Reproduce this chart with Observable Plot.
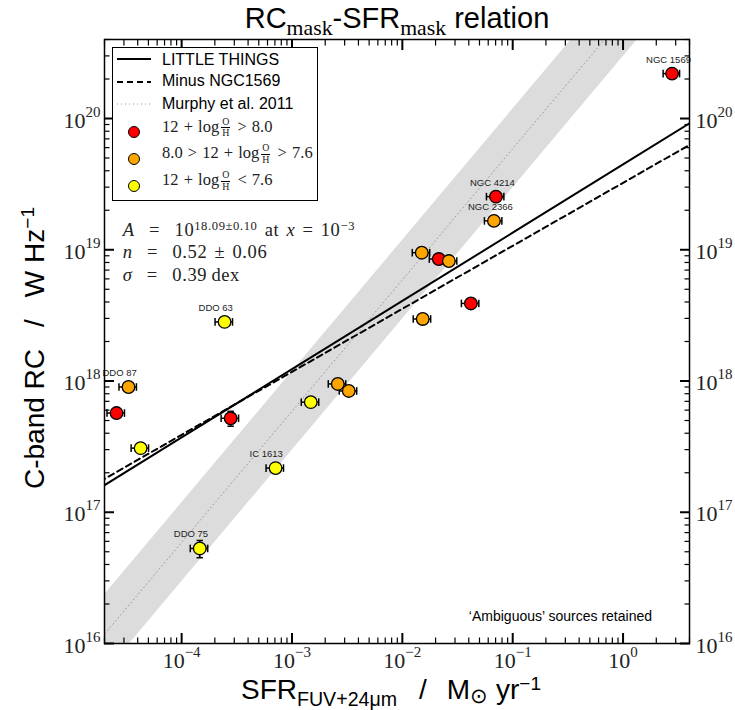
<!DOCTYPE html>
<html><head><meta charset="utf-8">
<script src="https://cdn.jsdelivr.net/npm/d3@7"></script>
<script src="https://cdn.jsdelivr.net/npm/@observablehq/plot@0.6"></script>
<style>
body{margin:0;background:#fff;}
#wrap{position:relative;width:735px;height:710px;overflow:hidden;background:#fff;}
#wrap > svg{position:absolute;left:0;top:0;}
.ov{position:absolute;white-space:nowrap;line-height:1;color:#000;}
.sans{font-family:"Liberation Sans",Arial,sans-serif;}
.serif{font-family:"Liberation Serif","DejaVu Serif",serif;}
.sub{position:relative;top:0.32em;font-size:0.7em;}
.sup{position:relative;top:-0.5em;font-size:0.68em;}
.frac{display:inline-block;vertical-align:-4px;text-align:center;font-size:0.6em;line-height:1.05;margin:0 2px;}
.frac span{display:block;}
.frac .num{border-bottom:1px solid #000;padding:0 1px;}
</style></head><body><div id="wrap"></div>
<script>
// ---- data ----
const galaxies = ["NGC 1569","NGC 4214","NGC 2366","","","","","","DDO 63","DDO 87","","","","","","","IC 1613","DDO 75"];
const sfr = [2.78, 0.0705, 0.0676, 0.0150, 0.0214, 0.0264, 0.0418, 0.0153, 2.45e-4, 3.3e-5, 2.57e-5, 2.78e-4, 4.25e-5, 2.6e-3, 3.27e-3, 1.48e-3, 7.1e-4, 1.46e-4];
const rcLum = [2.2e20, 2.54e19, 1.66e19, 9.5e18, 8.5e18, 8.2e18, 3.9e18, 2.97e18, 2.82e18, 9.0e17, 5.7e17, 5.2e17, 3.08e17, 9.5e17, 8.4e17, 6.9e17, 2.17e17, 5.3e16];
const metalClass = ["high","high","mid","mid","high","mid","high","mid","low","mid","high","high","low","mid","mid","low","low","low"];
const sfrErrFrac = [0.17, 0.18, 0.18, 0.18, 0.18, 0.18, 0.18, 0.18, 0.18, 0.18, 0.18, 0.18, 0.18, 0.18, 0.18, 0.18, 0.18, 0.18];
const rcErrFrac = [0.03, 0.03, 0.03, 0.03, 0.03, 0.03, 0.03, 0.03, 0.03, 0.03, 0.03, 0.13, 0.03, 0.03, 0.03, 0.03, 0.03, 0.15];
const classKeys = ["high","mid","low"];
const classColors = ["#ff0000","#ffa500","#ffff00"];
// fits: log10 A at SFR = 1e-3, slope n
const fitLabels = ["LITTLE THINGS","Minus NGC1569"];
const fitLogA = [18.09, 18.07];
const fitSlope = [0.52, 0.48];
const fitPivot = 1e-3;
// Murphy et al. 2011: log L = log SFR + offset, shaded +/- scatter
const murphyOffset = 20.77;
const murphyScatter = 0.30;
const curveSfr = [1e-6, 1e-5, 1e-4, 1e-3, 1e-2, 1e-1, 1, 10, 100];
const xMajor = [1e-4, 1e-3, 1e-2, 1e-1, 1];
const yMajor = [1e16, 1e17, 1e18, 1e19, 1e20];
const xDomain = [2e-5, 4];
const yDomain = [1e16, 4e20];

// ---- build ----
const pts = galaxies.map((name, i) => ({name, sfr: sfr[i], rc: rcLum[i], cls: metalClass[i], xe: sfrErrFrac[i], ye: rcErrFrac[i]}));
function minorTicks(dom) {
  const out = [];
  for (let e = Math.floor(Math.log10(dom[0])); e <= Math.ceil(Math.log10(dom[1])); e++)
    for (let k = 2; k <= 9; k++) { const v = k * 10 ** e; if (v >= dom[0] && v <= dom[1]) out.push(v); }
  return out;
}
const xMinor = minorTicks(xDomain), yMinor = minorTicks(yDomain);
const fmt = d => "10^" + Math.round(Math.log10(d));
const fitY = (k) => (s) => 10 ** (fitLogA[k] + fitSlope[k] * Math.log10(s / fitPivot));
const capV = {draw(ctx, size){const r = Math.sqrt(size/Math.PI); ctx.moveTo(0,-r); ctx.lineTo(0,r);}};
const capH = {draw(ctx, size){const r = Math.sqrt(size/Math.PI); ctx.moveTo(-r,0); ctx.lineTo(r,0);}};

const tickMarks = [];
for (const anchor of ["bottom","top"]) {
  tickMarks.push(Plot.axisX({anchor, ticks: xMajor, tickSize: -10, stroke: "#000", strokeWidth: 2, fill: "none", label: null}));
  tickMarks.push(Plot.axisX({anchor, ticks: xMinor, tickSize: -5.5, stroke: "#000", strokeWidth: 1.2, fill: "none", label: null}));
}
for (const anchor of ["left","right"]) {
  tickMarks.push(Plot.axisY({anchor, ticks: yMajor, tickSize: -10, stroke: "#000", strokeWidth: 2, fill: "none", label: null}));
  tickMarks.push(Plot.axisY({anchor, ticks: yMinor, tickSize: -5.5, stroke: "#000", strokeWidth: 1.2, fill: "none", label: null}));
}

const chart = Plot.plot({
  width: 735, height: 710,
  marginLeft: 104, marginRight: 46, marginTop: 39, marginBottom: 67,
  x: {type: "log", domain: xDomain},
  y: {type: "log", domain: yDomain},
  style: {fontFamily: '"Liberation Serif", serif', fontSize: "22px", color: "#000", background: "transparent"},
  marks: [
    Plot.areaY(curveSfr, {x: d => d, y1: d => 10 ** (Math.log10(d) + murphyOffset - murphyScatter), y2: d => 10 ** (Math.log10(d) + murphyOffset + murphyScatter), fill: "#dcdcdc", clip: true}),
    Plot.line(curveSfr, {x: d => d, y: d => 10 ** (Math.log10(d) + murphyOffset), stroke: "#9a9a9a", strokeWidth: 1, strokeDasharray: "1,3", clip: true}),
    Plot.line(curveSfr, {x: d => d, y: fitY(0), stroke: "#000", strokeWidth: 2, clip: true}),
    Plot.line(curveSfr, {x: d => d, y: fitY(1), stroke: "#000", strokeWidth: 2, strokeDasharray: "6,4", clip: true}),
    // error bars
    Plot.link(pts, {x1: d => d.sfr * (1 - d.xe), x2: d => d.sfr * (1 + d.xe), y1: "rc", y2: "rc", stroke: "#000", strokeWidth: 1.5}),
    Plot.dot(pts, {x: d => d.sfr * (1 - d.xe), y: "rc", symbol: capV, r: 3.8, stroke: "#000", strokeWidth: 1.5, fill: "none"}),
    Plot.dot(pts, {x: d => d.sfr * (1 + d.xe), y: "rc", symbol: capV, r: 3.8, stroke: "#000", strokeWidth: 1.5, fill: "none"}),
    Plot.link(pts, {x1: "sfr", x2: "sfr", y1: d => d.rc * (1 - d.ye), y2: d => d.rc * (1 + d.ye), stroke: "#000", strokeWidth: 1.5}),
    Plot.dot(pts, {x: "sfr", y: d => d.rc * (1 - d.ye), symbol: capH, r: 3.2, stroke: "#000", strokeWidth: 1.5, fill: "none"}),
    Plot.dot(pts, {x: "sfr", y: d => d.rc * (1 + d.ye), symbol: capH, r: 3.2, stroke: "#000", strokeWidth: 1.5, fill: "none"}),
    Plot.dot(pts, {x: "sfr", y: "rc", r: 6.3, fill: d => classColors[classKeys.indexOf(d.cls)], stroke: "#000", strokeWidth: 1.3}),
    Plot.text(pts.filter(d => d.name), {x: "sfr", y: "rc", text: "name", textAnchor: "start", lineAnchor: "bottom", dx: -26, dy: -11, fontSize: 9.5, fontFamily: '"Liberation Sans", sans-serif', fill: "#222"}),
    Plot.frame({stroke: "#000", strokeWidth: 1.5}),
    ...tickMarks,
    Plot.axisX({anchor: "bottom", ticks: xMajor, tickSize: 0, tickPadding: 9, tickFormat: fmt, label: null, fill: "#222", fontSize: 22}),
    Plot.axisY({anchor: "left", ticks: yMajor, tickSize: 0, tickPadding: 4, tickFormat: fmt, label: null, dy: 2, fill: "#222", fontSize: 22}),
    Plot.axisY({anchor: "right", ticks: yMajor, tickSize: 0, tickPadding: 6, tickFormat: fmt, label: null, dy: 2, fill: "#222", fontSize: 22})
  ]
});

// superscript exponents on tick labels
const NS = "http://www.w3.org/2000/svg";
chart.querySelectorAll('g[aria-label$="tick label"] text').forEach(t => {
  const m = t.textContent.match(/^10\^(.+)$/);
  if (!m) return;
  t.textContent = "";
  const a = document.createElementNS(NS, "tspan"); a.textContent = "10"; t.appendChild(a);
  const b = document.createElementNS(NS, "tspan"); b.textContent = m[1].replace("-", "\u2212");
  b.setAttribute("dy", "-11"); b.setAttribute("font-size", "15px"); t.appendChild(b);
});

const wrap = document.getElementById("wrap");
wrap.appendChild(chart);

function addDiv(html, cls, style) {
  const d = document.createElement("div");
  d.className = "ov " + cls; d.innerHTML = html;
  Object.assign(d.style, style); wrap.appendChild(d); return d;
}
// title
addDiv('RC<span class="sub serif" style="font-size:0.75em">mask</span>-SFR<span class="sub serif" style="font-size:0.75em">mask</span> relation', "sans",
  {left: "397px", top: (29 - 0.8465 * 29) + "px", fontSize: "29px", transform: "translateX(-50%)"});
// x label
addDiv('SFR<span class="sub">FUV+24\u03bcm</span><span style="margin:0 20px 0 22px">/</span>M<span class="sub" style="font-size:0.75em;top:0.2em">\u2299</span>&nbsp;yr<span class="sup">\u22121</span>', "sans",
  {left: "241px", top: (700 - 0.8465 * 28) + "px", fontSize: "28px"});
// y label
addDiv('C-band RC<span style="margin:0 22px">/</span>W Hz<span class="sup">\u22121</span>', "sans",
  {left: (45 - 0.8465 * 28) + "px", top: "489px", fontSize: "28px", transformOrigin: "0 0", transform: "rotate(-90deg)"});
// legend box
addDiv("", "", {left: "112px", top: "47px", width: "204px", height: "152px", border: "1px solid #000", background: "#fff"});
const legLines = [
  {label: fitLabels[0], y: 59, dash: null, color: "#000", w: 2},
  {label: fitLabels[1], y: 82, dash: "6,4", color: "#000", w: 2},
  {label: "Murphy et al. 2011", y: 104, dash: "1,3", color: "#9a9a9a", w: 1}
];
const legBase = [65.7, 87, 109.3];
legLines.forEach((l, i) => {
  addDiv(`<svg width="36" height="6" style="display:block"><line x1="1" x2="35" y1="3" y2="3" stroke="${l.color}" stroke-width="${l.w}" ${l.dash ? `stroke-dasharray="${l.dash}"` : ""}/></svg>`, "",
    {left: "116px", top: (l.y - 3) + "px", lineHeight: "0"});
  addDiv(l.label, "sans", {left: "162px", top: (legBase[i] - 0.8465 * 16) + "px", fontSize: "16px"});
});
const OH = '<span class="frac"><span class="num">O</span><span>H</span></span>';
const legMath = [
  `12 + log${OH} &gt; 8.0`,
  `8.0 &gt; 12 + log${OH} &gt; 7.6`,
  `12 + log${OH} &lt; 7.6`
];
const legCircY = [132.3, 159, 186.7];
const legMathBase = [130.7, 157.3, 184];
legMath.forEach((m, i) => {
  addDiv("", "", {left: (134.3 - 6.3) + "px", top: (legCircY[i] - 6.3) + "px", width: "10px", height: "10px", borderRadius: "50%", border: "1.3px solid #000", background: classColors[i]});
  addDiv(m, "serif", {left: "162px", top: (legMathBase[i] - 0.8375 * 16.5) + "px", fontSize: "16.5px", color: "#222", wordSpacing: "1px"});
});
// fit stats
const stats = [
  '<i>A</i>&nbsp;&nbsp;=&nbsp;&nbsp;10<span class="sup">18.09\u00b10.10</span>&nbsp;at&nbsp;<i>x</i>&nbsp;=&nbsp;10<span class="sup">\u22123</span>',
  '<i>n</i>&nbsp;&nbsp;=&nbsp;&nbsp;0.52&nbsp;\u00b1&nbsp;0.06',
  '<i>\u03c3</i>&nbsp;&nbsp;=&nbsp;&nbsp;0.39&#8201;dex'
];
const statBase = [236.7, 258.3, 281.7];
stats.forEach((s, i) => addDiv(s, "serif", {left: "122.7px", top: (statBase[i] - 0.8375 * 18.5) + "px", fontSize: "18.5px", color: "#222", letterSpacing: "0.6px", wordSpacing: "2px"}));
// note
addDiv("\u2018Ambiguous\u2019 sources retained", "sans", {left: "652px", top: (620.7 - 0.8465 * 14) + "px", fontSize: "14px", transform: "translateX(-100%)"});
</script></body></html>
